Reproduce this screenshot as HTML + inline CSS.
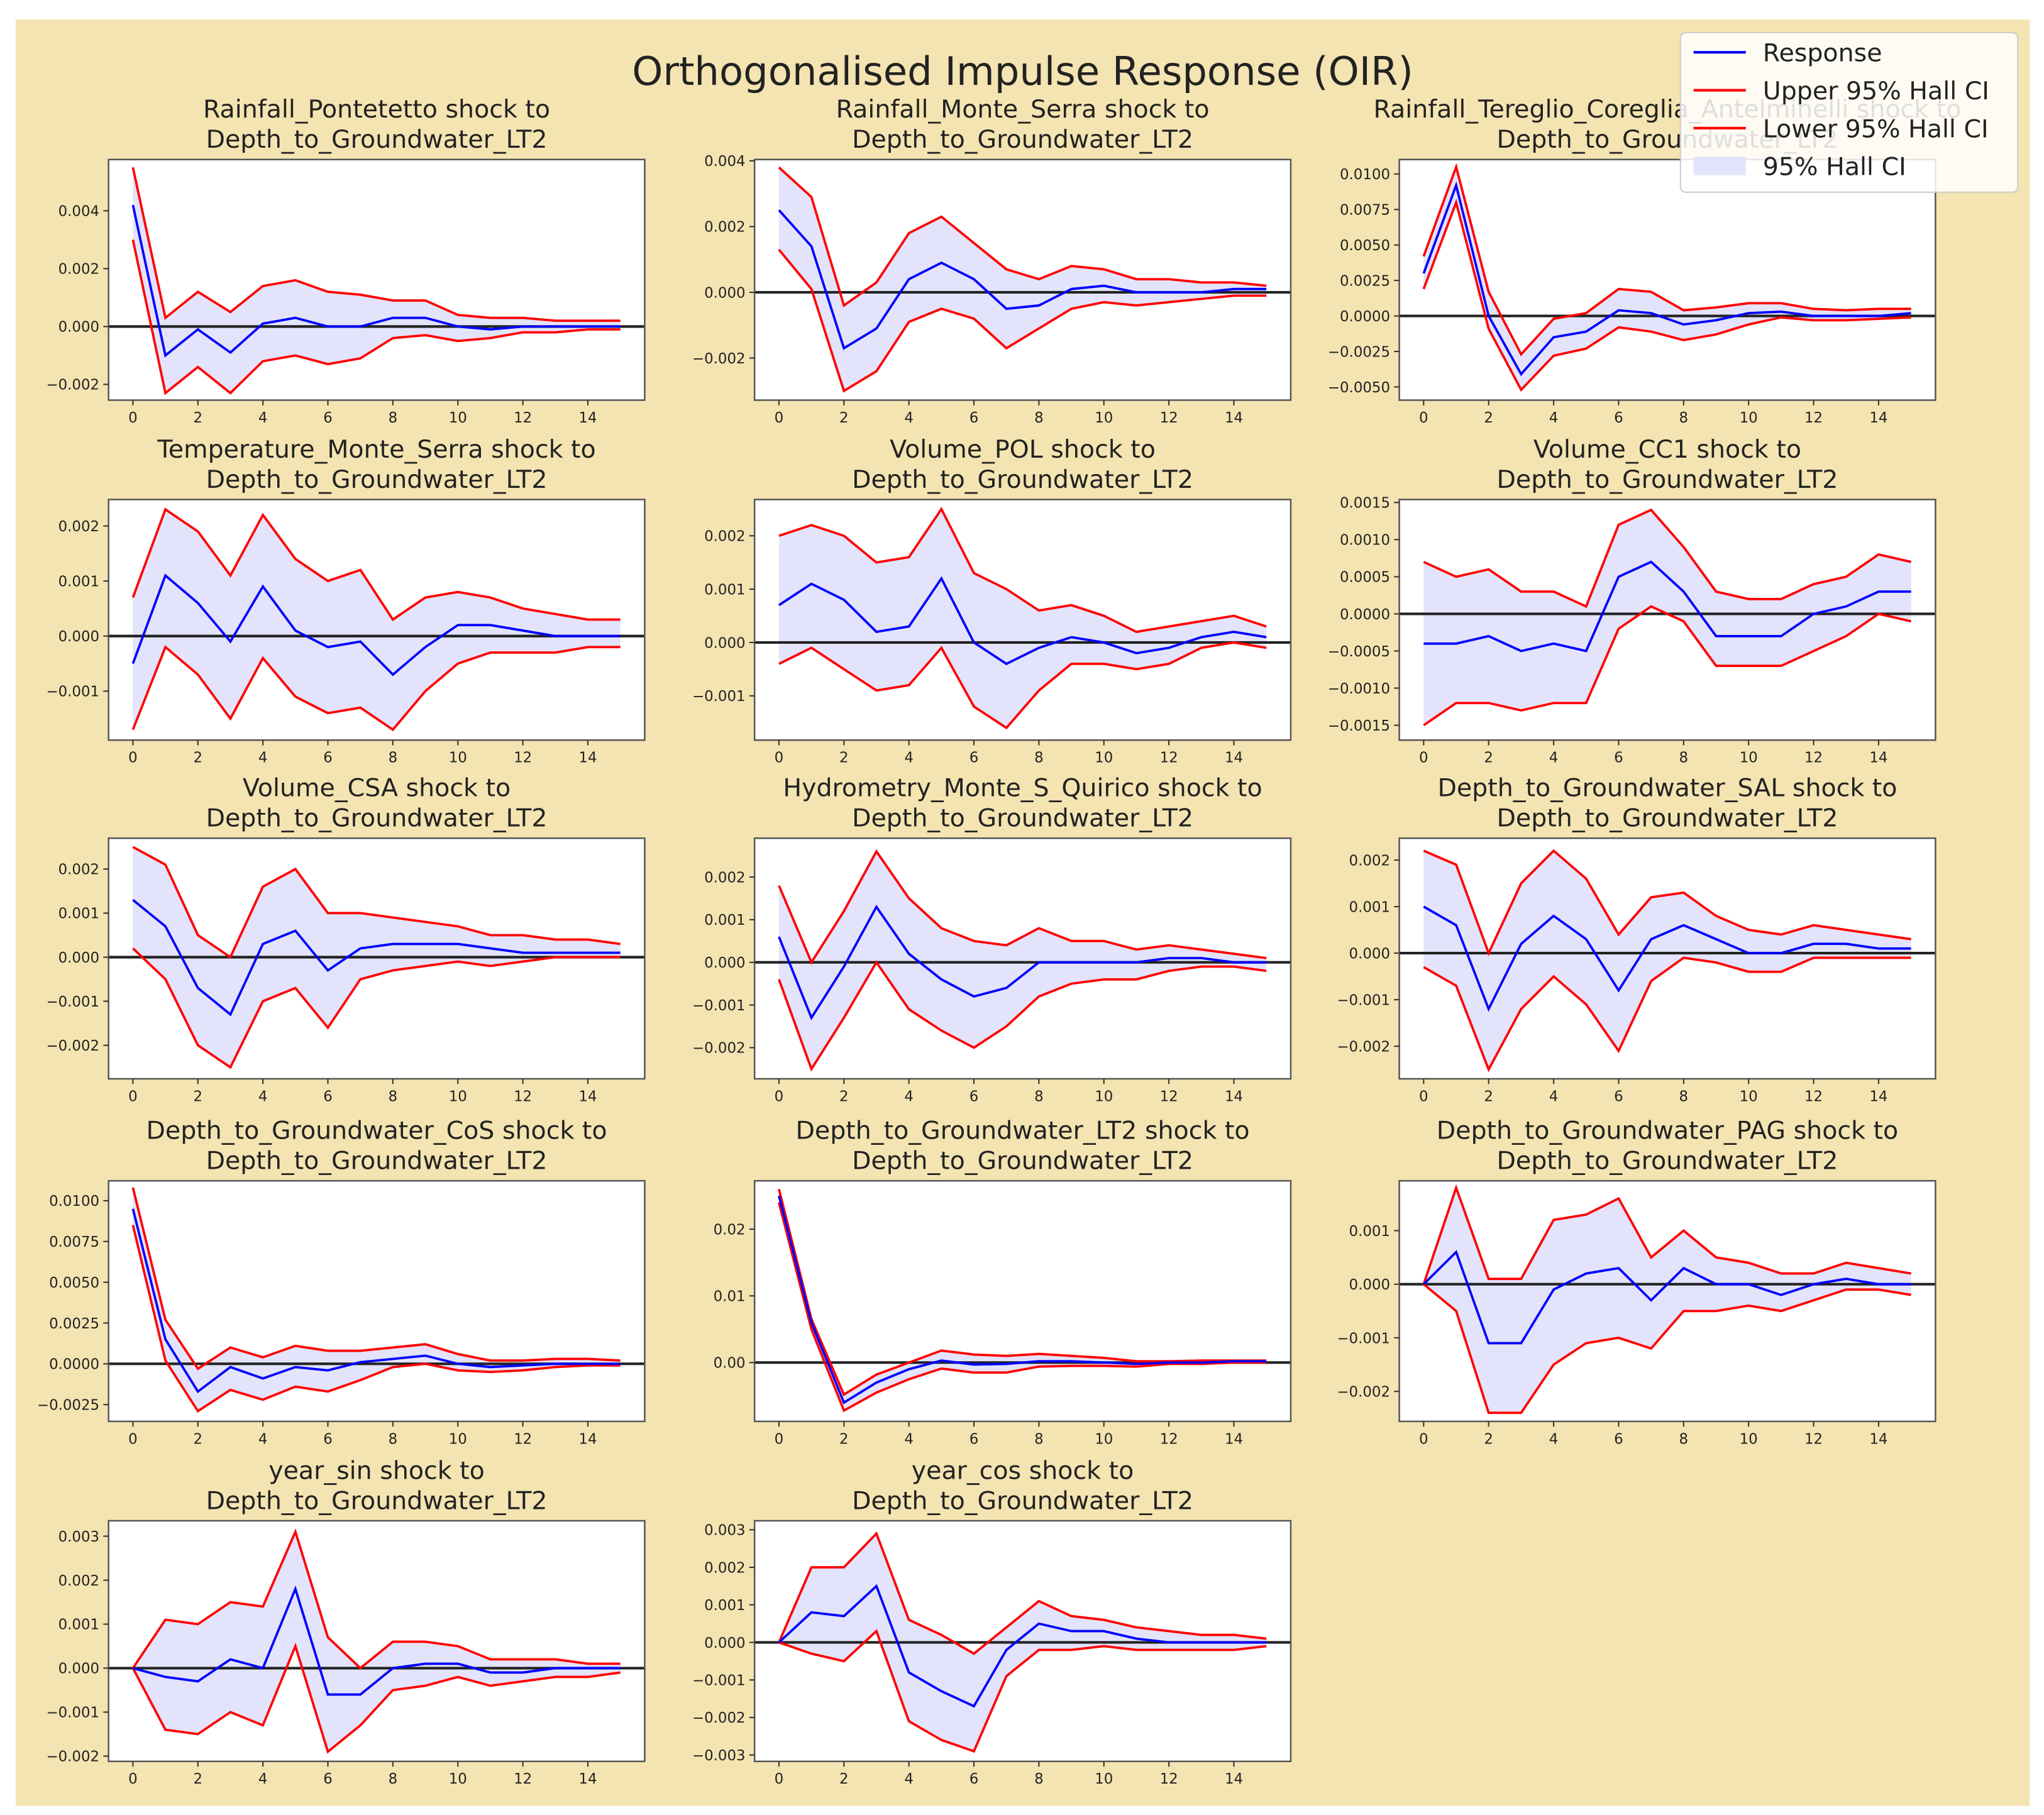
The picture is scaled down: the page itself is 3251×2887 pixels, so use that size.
<!DOCTYPE html>
<html><head><meta charset="utf-8"><style>
html,body{margin:0;padding:0;background:#fff}
svg{display:block}
text{font-family:"DejaVu Sans","Liberation Sans",sans-serif;fill:#222}
</style></head><body>
<svg id="fig" width="3251" height="2887" viewBox="0 0 1563 1388" preserveAspectRatio="none" xmlns="http://www.w3.org/2000/svg">
<rect x="12" y="15" width="1540" height="1366" fill="#f4e4b1"/>
<text x="782" y="65" font-size="30" text-anchor="middle">Orthogonalised Impulse Response (OIR)</text>
<g id="panels"></g>
<g>
<rect x="1285" y="25" width="258" height="122" rx="4" fill="#fff" fill-opacity="0.85" stroke="#ccc"/>
<line x1="1295" y1="40" x2="1335" y2="40" stroke="#0000ff" stroke-width="2"/>
<text x="1348" y="47" font-size="19">Response</text>
<line x1="1295" y1="69" x2="1335" y2="69" stroke="#ff0000" stroke-width="2"/>
<text x="1348" y="76" font-size="19">Upper 95% Hall CI</text>
<line x1="1295" y1="98" x2="1335" y2="98" stroke="#ff0000" stroke-width="2"/>
<text x="1348" y="105" font-size="19">Lower 95% Hall CI</text>
<rect x="1295" y="120" width="40" height="14" fill="#e3e3fb"/>
<text x="1348" y="134" font-size="19">95% Hall CI</text>
</g>
</svg>
<script>
const titles=["Rainfall_Pontetetto","Rainfall_Monte_Serra","Rainfall_Tereglio_Coreglia_Antelminelli","Temperature_Monte_Serra","Volume_POL","Volume_CC1","Volume_CSA","Hydrometry_Monte_S_Quirico","Depth_to_Groundwater_SAL","Depth_to_Groundwater_CoS","Depth_to_Groundwater_LT2","Depth_to_Groundwater_PAG","year_sin","year_cos"];
const steps=[0,1,2,3,4,5,6,7,8,9,10,11,12,13,14,15];
const xTicks=[0,2,4,6,8,10,12,14];
const ylims=[[-0.002545,0.005773],[-0.00328,0.00404],[-0.00593,0.01102],[-0.00189,0.00248],[-0.00183,0.00268],[-0.0017,0.00154],[-0.00276,0.0027],[-0.00273,0.00291],[-0.0027,0.00247],[-0.00353,0.01122],[-0.00882,0.02725],[-0.00256,0.00193],[-0.00212,0.00335],[-0.00317,0.00324]];
const yTicks=[[-0.002,0,0.002,0.004],[-0.002,0,0.002,0.004],[-0.005,-0.0025,0,0.0025,0.005,0.0075,0.01],[-0.001,0,0.001,0.002],[-0.001,0,0.001,0.002],[-0.0015,-0.001,-0.0005,0,0.0005,0.001,0.0015],[-0.002,-0.001,0,0.001,0.002],[-0.002,-0.001,0,0.001,0.002],[-0.002,-0.001,0,0.001,0.002],[-0.0025,0,0.0025,0.005,0.0075,0.01],[0,0.01,0.02],[-0.002,-0.001,0,0.001],[-0.002,-0.001,0,0.001,0.002,0.003],[-0.003,-0.002,-0.001,0,0.001,0.002,0.003]];
const yDec=[3,3,4,3,3,4,3,3,3,4,2,3,3,3];
const resp=[
[0.0042,-0.001,-0.0001,-0.0009,0.0001,0.0003,0,0,0.0003,0.0003,0,-0.0001,0,0,0,0],
[0.0025,0.0014,-0.0017,-0.0011,0.0004,0.0009,0.0004,-0.0005,-0.0004,0.0001,0.0002,0,0,0,0.0001,0.0001],
[0.003,0.0092,0,-0.0041,-0.0015,-0.0011,0.0004,0.0002,-0.0006,-0.0003,0.0002,0.0003,0,0,0,0.0002],
[-0.0005,0.0011,0.0006,-0.0001,0.0009,0.0001,-0.0002,-0.0001,-0.0007,-0.0002,0.0002,0.0002,0.0001,0,0,0],
[0.0007,0.0011,0.0008,0.0002,0.0003,0.0012,0,-0.0004,-0.0001,0.0001,0,-0.0002,-0.0001,0.0001,0.0002,0.0001],
[-0.0004,-0.0004,-0.0003,-0.0005,-0.0004,-0.0005,0.0005,0.0007,0.0003,-0.0003,-0.0003,-0.0003,0,0.0001,0.0003,0.0003],
[0.0013,0.0007,-0.0007,-0.0013,0.0003,0.0006,-0.0003,0.0002,0.0003,0.0003,0.0003,0.0002,0.0001,0.0001,0.0001,0.0001],
[0.0006,-0.0013,-0.0001,0.0013,0.0002,-0.0004,-0.0008,-0.0006,0,0,0,0,0.0001,0.0001,0,0],
[0.001,0.0006,-0.0012,0.0002,0.0008,0.0003,-0.0008,0.0003,0.0006,0.0003,0,0,0.0002,0.0002,0.0001,0.0001],
[0.0095,0.0015,-0.0017,-0.0002,-0.0009,-0.0002,-0.0004,0.0001,0.0003,0.0005,0,-0.0002,-0.0001,0,0,0],
[0.025,0.006,-0.006,-0.003,-0.001,0.0003,-0.0003,-0.0002,0.0002,0.0002,0,-0.0002,0,0,0.0002,0.0002],
[0,0.0006,-0.0011,-0.0011,-0.0001,0.0002,0.0003,-0.0003,0.0003,0,0,-0.0002,0,0.0001,0,0],
[0,-0.0002,-0.0003,0.0002,0,0.0018,-0.0006,-0.0006,0,0.0001,0.0001,-0.0001,-0.0001,0,0,0],
[0,0.0008,0.0007,0.0015,-0.0008,-0.0013,-0.0017,-0.0002,0.0005,0.0003,0.0003,0.0001,0,0,0,0]];
const upper=[
[0.0055,0.0003,0.0012,0.0005,0.0014,0.0016,0.0012,0.0011,0.0009,0.0009,0.0004,0.0003,0.0003,0.0002,0.0002,0.0002],
[0.0038,0.0029,-0.0004,0.0003,0.0018,0.0023,0.0015,0.0007,0.0004,0.0008,0.0007,0.0004,0.0004,0.0003,0.0003,0.0002],
[0.0042,0.0105,0.0017,-0.0027,-0.0002,0.0002,0.0019,0.0017,0.0004,0.0006,0.0009,0.0009,0.0005,0.0004,0.0005,0.0005],
[0.0007,0.0023,0.0019,0.0011,0.0022,0.0014,0.001,0.0012,0.0003,0.0007,0.0008,0.0007,0.0005,0.0004,0.0003,0.0003],
[0.002,0.0022,0.002,0.0015,0.0016,0.0025,0.0013,0.001,0.0006,0.0007,0.0005,0.0002,0.0003,0.0004,0.0005,0.0003],
[0.0007,0.0005,0.0006,0.0003,0.0003,0.0001,0.0012,0.0014,0.0009,0.0003,0.0002,0.0002,0.0004,0.0005,0.0008,0.0007],
[0.0025,0.0021,0.0005,0,0.0016,0.002,0.001,0.001,0.0009,0.0008,0.0007,0.0005,0.0005,0.0004,0.0004,0.0003],
[0.0018,0,0.0012,0.0026,0.0015,0.0008,0.0005,0.0004,0.0008,0.0005,0.0005,0.0003,0.0004,0.0003,0.0002,0.0001],
[0.0022,0.0019,0,0.0015,0.0022,0.0016,0.0004,0.0012,0.0013,0.0008,0.0005,0.0004,0.0006,0.0005,0.0004,0.0003],
[0.0108,0.0027,-0.0003,0.001,0.0004,0.0011,0.0008,0.0008,0.001,0.0012,0.0006,0.0002,0.0002,0.0003,0.0003,0.0002],
[0.026,0.0065,-0.0048,-0.0018,0,0.0018,0.0012,0.001,0.0013,0.001,0.0007,0.0002,0.0002,0.0003,0.0003,0.0003],
[0,0.0018,0.0001,0.0001,0.0012,0.0013,0.0016,0.0005,0.001,0.0005,0.0004,0.0002,0.0002,0.0004,0.0003,0.0002],
[0,0.0011,0.001,0.0015,0.0014,0.0031,0.0007,0,0.0006,0.0006,0.0005,0.0002,0.0002,0.0002,0.0001,0.0001],
[0,0.002,0.002,0.0029,0.0006,0.0002,-0.0003,0.0004,0.0011,0.0007,0.0006,0.0004,0.0003,0.0002,0.0002,0.0001]];
const lower=[
[0.003,-0.0023,-0.0014,-0.0023,-0.0012,-0.001,-0.0013,-0.0011,-0.0004,-0.0003,-0.0005,-0.0004,-0.0002,-0.0002,-0.0001,-0.0001],
[0.0013,0.0001,-0.003,-0.0024,-0.0009,-0.0005,-0.0008,-0.0017,-0.0011,-0.0005,-0.0003,-0.0004,-0.0003,-0.0002,-0.0001,-0.0001],
[0.0019,0.008,-0.0009,-0.0052,-0.0028,-0.0023,-0.0008,-0.0011,-0.0017,-0.0013,-0.0006,-0.0001,-0.0003,-0.0003,-0.0002,-0.0001],
[-0.0017,-0.0002,-0.0007,-0.0015,-0.0004,-0.0011,-0.0014,-0.0013,-0.0017,-0.001,-0.0005,-0.0003,-0.0003,-0.0003,-0.0002,-0.0002],
[-0.0004,-0.0001,-0.0005,-0.0009,-0.0008,-0.0001,-0.0012,-0.0016,-0.0009,-0.0004,-0.0004,-0.0005,-0.0004,-0.0001,0,-0.0001],
[-0.0015,-0.0012,-0.0012,-0.0013,-0.0012,-0.0012,-0.0002,0.0001,-0.0001,-0.0007,-0.0007,-0.0007,-0.0005,-0.0003,0,-0.0001],
[0.0002,-0.0005,-0.002,-0.0025,-0.001,-0.0007,-0.0016,-0.0005,-0.0003,-0.0002,-0.0001,-0.0002,-0.0001,0,0,0],
[-0.0004,-0.0025,-0.0013,0,-0.0011,-0.0016,-0.002,-0.0015,-0.0008,-0.0005,-0.0004,-0.0004,-0.0002,-0.0001,-0.0001,-0.0002],
[-0.0003,-0.0007,-0.0025,-0.0012,-0.0005,-0.0011,-0.0021,-0.0006,-0.0001,-0.0002,-0.0004,-0.0004,-0.0001,-0.0001,-0.0001,-0.0001],
[0.0085,0.0002,-0.0029,-0.0016,-0.0022,-0.0014,-0.0017,-0.001,-0.0002,0,-0.0004,-0.0005,-0.0004,-0.0002,-0.0001,-0.0001],
[0.024,0.005,-0.0072,-0.0045,-0.0025,-0.0009,-0.0015,-0.0015,-0.0006,-0.0005,-0.0005,-0.0006,-0.0002,-0.0002,0,0],
[0,-0.0005,-0.0024,-0.0024,-0.0015,-0.0011,-0.001,-0.0012,-0.0005,-0.0005,-0.0004,-0.0005,-0.0003,-0.0001,-0.0001,-0.0002],
[0,-0.0014,-0.0015,-0.001,-0.0013,0.0005,-0.0019,-0.0013,-0.0005,-0.0004,-0.0002,-0.0004,-0.0003,-0.0002,-0.0002,-0.0001],
[0,-0.0003,-0.0005,0.0003,-0.0021,-0.0026,-0.0029,-0.0009,-0.0002,-0.0002,-0.0001,-0.0002,-0.0002,-0.0002,-0.0002,-0.0001]];

const NS="http://www.w3.org/2000/svg";
const colX=[83,577,1070], rowY=[122,382,641,903,1163], W=410, H=184;
const root=document.getElementById('panels');
function mk(tag,attrs,parent){const e=document.createElementNS(NS,tag);for(const k in attrs)e.setAttribute(k,attrs[k]);parent.appendChild(e);return e;}
function fmt(v,d){let s=v.toFixed(d);if(parseFloat(s)===0)s=(0).toFixed(d);return s.replace('-','\u2212');}
titles.forEach((t,i)=>{
  const x0=colX[i%3], y0=rowY[Math.floor(i/3)];
  const g=mk('g',{},root);
  
  
  const sx=v=>x0+(v+0.75)/16.5*W;
  const [lo,hi]=ylims[i];
  const sy=v=>y0+H-(v-lo)/(hi-lo)*H;
  mk('rect',{x:x0,y:y0,width:W,height:H,fill:'#fff'},g);
  const t1=mk('text',{x:x0+W/2,y:y0-32,'font-size':19,'text-anchor':'middle'},g);t1.textContent=t+' shock to';
  
  
  const t2=mk('text',{x:x0+W/2,y:y0-9,'font-size':19,'text-anchor':'middle'},g);t2.textContent='Depth_to_Groundwater_LT2';
  
  
  let band=steps.map(s=>sx(s)+','+sy(upper[i][s])).join(' ')+' '+steps.slice().reverse().map(s=>sx(s)+','+sy(lower[i][s])).join(' ');
  const b=mk('polygon',{points:band,fill:'#e3e3fb'},g);
  
  
  mk('line',{x1:x0,x2:x0+W,y1:sy(0),y2:sy(0),stroke:'#222','stroke-width':2},g);
  [[upper,'#ff0000','upper-line'],[lower,'#ff0000','lower-line'],[resp,'#0000ff','response-line']].forEach(([arr,c,n])=>{
    const p=mk('polyline',{points:steps.map(s=>sx(s)+','+sy(arr[i][s])).join(' '),fill:'none',stroke:c,'stroke-width':1.8},g);
    
    
  });
  mk('rect',{x:x0,y:y0,width:W,height:H,fill:'none',stroke:'#555','stroke-width':1.2},g);
  xTicks.forEach(v=>{
    mk('line',{x1:sx(v),x2:sx(v),y1:y0+H,y2:y0+H+4,stroke:'#333'},g);
    const tx=mk('text',{x:sx(v),y:y0+H+17,'font-size':11,'text-anchor':'middle'},g);tx.textContent=v;
    
    
  });
  yTicks[i].forEach(v=>{
    mk('line',{x1:x0-4,x2:x0,y1:sy(v),y2:sy(v),stroke:'#333'},g);
    const ty=mk('text',{x:x0-7,y:sy(v)+4,'font-size':11,'text-anchor':'end'},g);ty.textContent=fmt(v,yDec[i]);
    
    
  });
});
</script>
</body></html>
